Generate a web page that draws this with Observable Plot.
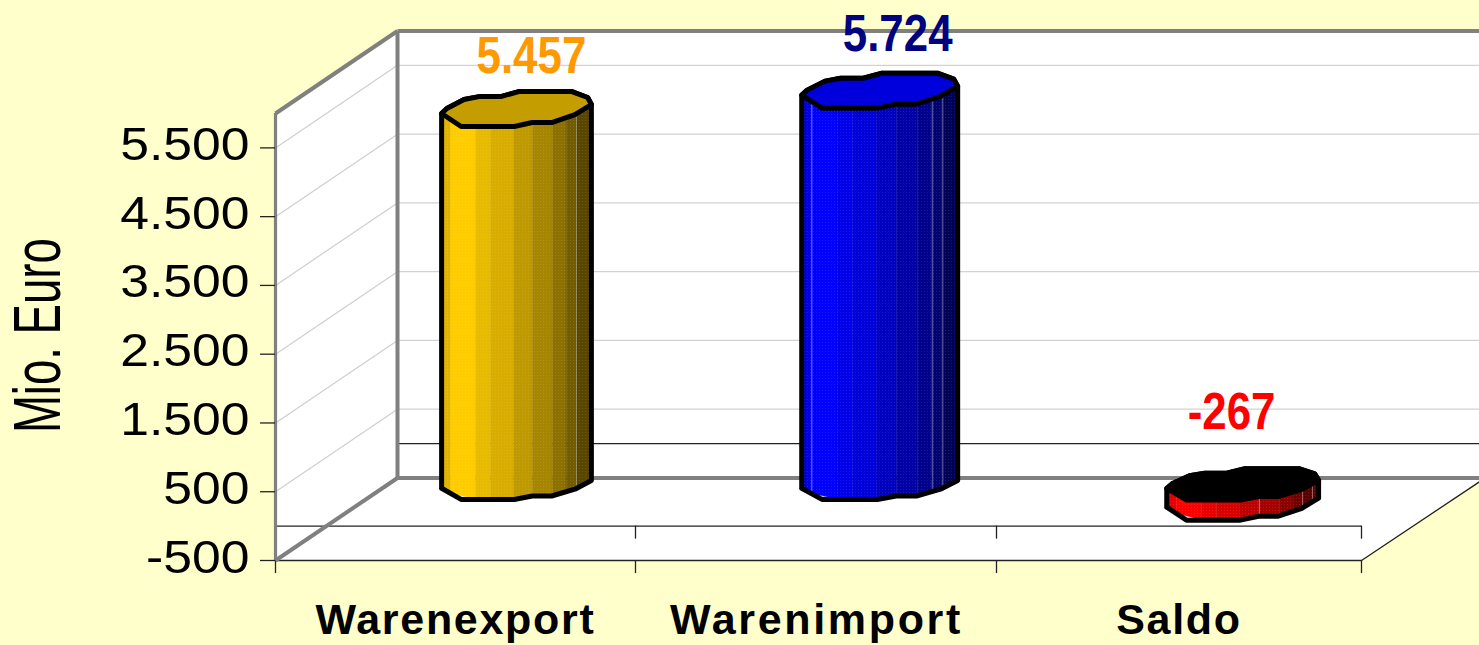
<!DOCTYPE html>
<html><head><meta charset="utf-8">
<style>html,body{margin:0;padding:0;background:#FFFFCC;overflow:hidden}</style>
<script src="https://cdn.jsdelivr.net/npm/d3@7"></script>
<script src="https://cdn.jsdelivr.net/npm/@observablehq/plot@0.6"></script>
</head><body><script>
// --- chart values ---
const categories = ["Warenexport", "Warenimport", "Saldo"];
const values = [5457, 5724, -267];
const valueLabels = ["5.457", "5.724", "-267"];
const yTicks = [-500, 500, 1500, 2500, 3500, 4500, 5500];
const yTickLabels = ["-500", "500", "1.500", "2.500", "3.500", "4.500", "5.500"];
const labelColors = ["#FF9900", "#000080", "#FF0000"];
const baseColors = ["#FFCC00", "#0000FF", "#FF0000"];
const capColors = ["#C49E00", "#0000DD", "#000000"];

// --- oblique projection in chart units ---
const depthX = 122 / 360;          // category units per chart depth
const depthY = 1200;               // value units per chart depth
const rightEnd = 3.33;
const yMin = -500, yMax = 6000;

// cross-section of a column, normalised to half width / half depth
const frontX = [-1, -.74, -.03, .21, .47, .78, 1];
const frontY = [.22, .94, .94, .72, .72, .28, -.28];
const backX = [.95, .74, .03, -.21, -.5, -.7, -.93];
const backY = [-.67, -1, -1, -.72, -.72, -.56, -.06];
const halfWidth = [.208, .216, .208];
const barNudge = [0, .007, .005];
const halfDepth = 262;
const capDepth = [1, 1, .9];
const bottomDepth = [.86, .86, 1];
const bandEdges = [-1, -.87, -.54, -.34, -.03, .22, .49, .67, .8, 1];
const bandShades = [.88, 1, .91, .85, .75, .65, .55, .45, .35];
const lightEdges = [[.8], [-.87, .68, .81], [.22, .79, .92]];
const labelOffX = [15, 18, -11].map(d => d / 362);
const labelOffY = [37, 40, 56].map(d => d * 1200 / 82.5);

const frontAt = d3.scaleLinear().domain(frontX).range(frontY);
const cx = i => i + .5 + depthX / 2 + barNudge[i];
const cy = v => v + depthY / 2;
const topOf = i => Math.max(values[i], 0), botOf = i => Math.min(values[i], 0);
const shade = (c, k) => { const r = d3.rgb(c); return d3.rgb(r.r * k, r.g * k, r.b * k).formatHex(); };

const bands = [], edges = [], caps = [], outlines = [];
categories.forEach((_, i) => {
  const px = t => cx(i) + t * halfWidth[i];
  const lowY = s => cy(botOf(i)) - s * halfDepth * bottomDepth[i];
  const topY = s => cy(topOf(i)) - s * halfDepth * capDepth[i];
  bandShades.forEach((k, b) => {
    [bandEdges[b], bandEdges[b + 1]].forEach(t => bands.push({
      key: i + "-" + b, color: shade(baseColors[i], k), x: px(t),
      y1: lowY(frontAt(t)), y2: topY(frontAt(t))
    }));
  });
  lightEdges[i].forEach(t => {
    edges.push({key: i + "e" + t, x: px(t), y: lowY(frontAt(t))});
    edges.push({key: i + "e" + t, x: px(t), y: topY(frontAt(t))});
  });
  const ring = [...frontX.map((t, j) => [t, frontY[j]]), ...backX.map((t, j) => [t, backY[j]])];
  [...ring, ring[0]].forEach(([t, s]) => caps.push({bar: i, color: capColors[i], x: px(t), y: topY(s)}));
  // silhouette: lower front edge, then up the right side, along the back, down the left side
  frontX.forEach((t, j) => outlines.push({bar: i, x: px(t), y: lowY(frontY[j])}));
  outlines.push({bar: i, x: px(1), y: topY(frontY[6])});
  backX.forEach((t, j) => outlines.push({bar: i, x: px(t), y: topY(backY[j])}));
  outlines.push({bar: i, x: px(frontX[0]), y: topY(frontY[0])});
  outlines.push({bar: i, x: px(frontX[0]), y: lowY(frontY[0])});
});

const floorArea = [
  {x: 0, y1: yMin, y2: yMin},
  {x: depthX, y1: yMin, y2: yMin + depthY},
  {x: 3, y1: yMin, y2: yMin + depthY},
  {x: rightEnd, y1: yMin + depthY * (rightEnd - 3) / depthX, y2: yMin + depthY}
];
const sideWall = [
  {x: 0, y1: yMin, y2: yMax},
  {x: depthX, y1: yMin + depthY, y2: yMax + depthY}
];
const grayEdges = [
  {x1: 0, y1: yMin, x2: depthX, y2: yMin + depthY},
  {x1: 0, y1: yMax, x2: depthX, y2: yMax + depthY},
  {x1: depthX, y1: yMin + depthY, x2: depthX, y2: yMax + depthY},
  {x1: depthX, y1: yMax + depthY, x2: rightEnd, y2: yMax + depthY},
  {x1: depthX, y1: yMin + depthY, x2: rightEnd, y2: yMin + depthY}
];
const blackLines = [
  {x1: 0, y1: 0, x2: 3, y2: 0},
  {x1: depthX, y1: depthY, x2: rightEnd, y2: depthY},
  {x1: 0, y1: yMin, x2: 3, y2: yMin},
  {x1: 3, y1: yMin, x2: rightEnd, y2: yMin + depthY * (rightEnd - 3) / depthX}
];

const svg = Plot.plot({
  width: 1479, height: 645,
  marginLeft: 275, marginRight: 118, marginTop: 113, marginBottom: 85,
  x: {type: "linear", domain: [0, 1, 2, 3], range: [275, 635, 996, 1361]},
  y: {domain: [yMin, yMax], range: [560, 113]},
  color: {type: "identity"},
  style: {background: "#FFFFCC", fontFamily: "'Liberation Sans', Arial, sans-serif", overflow: "visible", maxWidth: "none"},
  marks: [
    Plot.rect([0], {x1: depthX, x2: rightEnd, y1: yMin + depthY, y2: yMax + depthY, fill: "#fff"}),
    Plot.areaY(sideWall, {x: "x", y1: "y1", y2: "y2", fill: "#fff"}),
    Plot.areaY(floorArea, {x: "x", y1: "y1", y2: "y2", fill: "#fff"}),
    Plot.link(yTicks, {x1: depthX, x2: rightEnd, y1: d => d + depthY, y2: d => d + depthY, stroke: "#d2d2d2", strokeWidth: 1.2}),
    Plot.link(yTicks, {x1: 0, x2: depthX, y1: d => d, y2: d => d + depthY, stroke: "#cfcfcf", strokeWidth: 1.2}),
    Plot.link(blackLines, {x1: "x1", y1: "y1", x2: "x2", y2: "y2", stroke: "#222", strokeWidth: 1.3}),
    Plot.ruleX([1, 2, 3], {y1: 0, y2: -190, stroke: "#222", strokeWidth: 1.3}),
    Plot.ruleX([0, 1, 2, 3], {y1: yMin, y2: yMin - 190, stroke: "#222", strokeWidth: 1.3}),
    Plot.link(grayEdges, {x1: "x1", y1: "y1", x2: "x2", y2: "y2", stroke: "#808080", strokeWidth: 4}),
    Plot.ruleX([0], {y1: yMin, y2: yMax, stroke: "#808080", strokeWidth: 3.2}),
    Plot.ruleY(yTicks, {x1: 0, x2: -15 / 360, stroke: "#222", strokeWidth: 1.3}),
    Plot.axisY({ticks: yTicks, tickFormat: d => yTickLabels[yTicks.indexOf(d)], tickSize: 0, tickPadding: 26, dy: -3, fontSize: 47, label: null, fill: "#000"}),
    Plot.areaY(bands, {x: "x", y1: "y1", y2: "y2", z: "key", fill: "color", stroke: "color", strokeWidth: .5}),
    Plot.areaY(bands, {x: "x", y1: "y1", y2: "y2", z: "key", fill: "url(#stipple)"}),
    Plot.line(edges, {x: "x", y: "y", z: "key", stroke: "#fff", strokeOpacity: .4, strokeWidth: 1}),
    Plot.line(outlines, {x: "x", y: "y", z: "bar", stroke: "#000", strokeWidth: 5, strokeLinejoin: "round"}),
    Plot.line(caps, {x: "x", y: "y", z: "bar", fill: "color", stroke: "#000", strokeWidth: 5, strokeLinejoin: "round"}),
    Plot.text(categories, {
      x: (_, i) => cx(i) + labelOffX[i], y: (_, i) => cy(topOf(i)) + labelOffY[i],
      text: (_, i) => valueLabels[i], fill: (_, i) => labelColors[i],
      fontSize: 51.6, fontWeight: "bold", textAnchor: "middle", lineAnchor: "bottom", className: "value-label"
    }),
    Plot.text(["Mio. Euro"], {x: -.6, y: 2770, rotate: -90, fontSize: 66, fill: "#000", textAnchor: "middle", lineAnchor: "bottom", className: "y-title"}),
    Plot.axisX({ticks: [.5, 1.5, 2.5], tickFormat: d => categories[d - .5], tickSize: 0, tickPadding: 43, fontSize: 43, fontWeight: "bold", label: null, fill: "#000", lineAnchor: "top"})
  ]
});
document.body.append(svg);

const s = d3.select(svg);
const stretch = (sel, k) => s.selectAll(sel + " text").each(function () {
  const w = this.getComputedTextLength();
  d3.select(this).attr("lengthAdjust", "spacingAndGlyphs").attr("textLength", w * k);
});
stretch('g[aria-label="y-axis tick label"]', 1.1);
stretch(".value-label", .85);
stretch(".y-title", .69);
s.selectAll('g[aria-label="x-axis tick label"] text').style("letter-spacing", "1.7px");
s.selectAll('g[aria-label="x-axis tick label"] text').filter(function () { return this.textContent === "Warenimport"; }).attr("textLength", 292).attr("lengthAdjust", "spacing");
const defs = s.insert("defs", ":first-child");
const pat = defs.append("pattern").attr("id", "stipple").attr("width", 3).attr("height", 3).attr("patternUnits", "userSpaceOnUse");
pat.append("rect").attr("width", 1).attr("height", 1).attr("fill", "#fff").attr("fill-opacity", .1);
</script></body></html>
